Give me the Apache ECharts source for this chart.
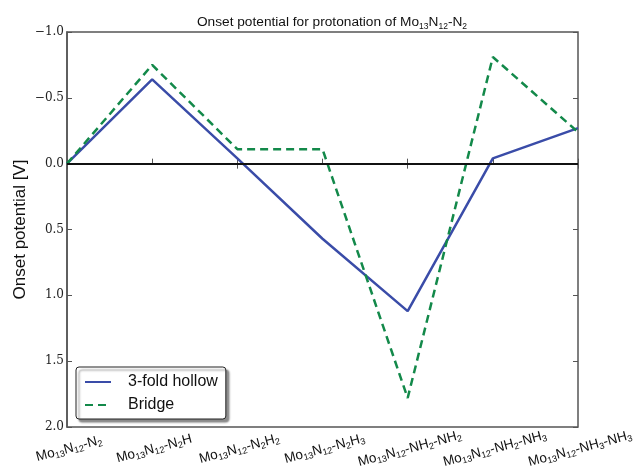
<!DOCTYPE html>
<html>
<head>
<meta charset="utf-8">
<script src="https://cdn.jsdelivr.net/npm/echarts@6/dist/echarts.min.js"></script>
<style>
  html, body { margin: 0; padding: 0; background: #fff; }
  #chart { width: 633px; height: 470px; }
</style>
</head>
<body>
<div id="chart"></div>
<script>
// structures along the reaction path
const categories = [
  'Mo13N12-N2',
  'Mo13N12-N2H',
  'Mo13N12-N2H2',
  'Mo13N12-N2H3',
  'Mo13N12-NH2-NH2',
  'Mo13N12-NH2-NH3',
  'Mo13N12-NH3-NH3'
]
// onset potential [V]
const hollowValues = [0, -0.64, -0.04, 0.57, 1.12, -0.04, -0.27]
const bridgeValues = [0, -0.75, -0.11, -0.11, 1.78, -0.81, -0.24]
const yTicks = [-1.0, -0.5, 0.0, 0.5, 1.0, 1.5, 2.0]

// every digit in the formulas is a subscript
const subs = s => s.replace(/(\d+)/g, '{s|$1}')

const frame = '#555'
const chart = echarts.init(document.getElementById('chart'))

chart.setOption({
  animation: false,
  title: {
    text: subs('Onset potential for protonation of Mo13N12-N2'),
    left: 327,
    textAlign: 'center',
    top: 8,
    textStyle: {
      fontFamily: 'Liberation Sans',
      fontSize: 13.7,
      fontWeight: 'normal',
      color: '#111',
      lineHeight: 18,
      rich: {
        s: { fontSize: 8.5, verticalAlign: 'bottom', lineHeight: 12, fontFamily: 'Liberation Sans', color: '#111' }
      }
    }
  },
  legend: {
    orient: 'vertical',
    left: 76,
    top: 367,
    padding: [7, 8, 6, 8],
    itemGap: 7,
    itemWidth: 26,
    itemHeight: 14,
    backgroundColor: '#fff',
    borderColor: '#222',
    borderWidth: 1,
    borderRadius: 3,
    shadowColor: 'rgba(0,0,0,0.45)',
    shadowBlur: 2,
    shadowOffsetX: 3,
    shadowOffsetY: 3,
    itemStyle: { opacity: 0 },
    textStyle: { fontFamily: 'Liberation Sans', fontSize: 16, color: '#111', padding: [0, 0, 0, 12] },
    data: ['3-fold hollow', 'Bridge']
  },
  grid: {
    left: 67,
    right: 55,
    top: 32,
    bottom: 43,
    containLabel: false,
    outerBoundsMode: 'none',
    show: true,
    borderColor: frame,
    borderWidth: 1.5
  },
  xAxis: [
    {
      type: 'category',
      data: categories,
      boundaryGap: false,
      axisLine: { lineStyle: { color: frame, width: 1.5 } },
      axisTick: { inside: true, length: 5, lineStyle: { color: frame } },
      axisLabel: {
        interval: 0,
        rotate: 15,
        align: 'center',
        verticalAlign: 'top',
        margin: 14,
        hideOverlap: false,
        fontFamily: 'Liberation Sans',
        fontSize: 13.5,
        color: '#111',
        lineHeight: 16,
        formatter: v => subs(v),
        rich: {
          s: { fontSize: 9, verticalAlign: 'bottom', lineHeight: 11, fontFamily: 'Liberation Sans', color: '#111' }
        }
      },
      splitLine: { show: false }
    },
    {
      type: 'category',
      data: categories,
      boundaryGap: false,
      position: 'top',
      axisLine: { show: false },
      axisTick: { inside: true, length: 5, lineStyle: { color: frame } },
      axisLabel: { show: false },
      splitLine: { show: false }
    }
  ],
  yAxis: [
    {
      type: 'value',
      inverse: true,
      min: -1,
      max: 2,
      interval: 0.5,
      name: 'Onset potential [V]',
      nameLocation: 'middle',
      nameGap: 38,
      nameMoveOverlap: false,
      nameTextStyle: { fontFamily: 'Liberation Sans', fontSize: 17, color: '#111' },
      axisLine: { show: true, lineStyle: { color: frame, width: 1.5 } },
      axisTick: { show: true, inside: true, length: 5, lineStyle: { color: frame } },
      axisLabel: {
        margin: 3,
        fontFamily: 'DejaVu Serif',
        fontSize: 12,
        color: '#222',
        formatter: v => {
          const t = yTicks.find(x => Math.abs(x - v) < 1e-9)
          const n = t === undefined ? v : t
          return (n < 0 ? '\u2212' : '') + Math.abs(n).toFixed(1)
        }
      },
      splitLine: { show: false }
    },
    {
      type: 'value',
      inverse: true,
      min: -1,
      max: 2,
      interval: 0.5,
      position: 'right',
      axisLine: { show: false },
      axisTick: { show: true, inside: true, length: 5, lineStyle: { color: frame } },
      axisLabel: { show: false },
      splitLine: { show: false }
    }
  ],
  series: [
    {
      name: '3-fold hollow',
      type: 'line',
      data: hollowValues,
      symbol: 'none',
      color: '#3a4ca8',
      lineStyle: { color: '#3a4ca8', width: 2.5 },
      z: 3,
      markLine: {
        silent: true,
        symbol: 'none',
        label: { show: false },
        lineStyle: { color: '#111', width: 2, type: 'solid' },
        data: [{ yAxis: 0 }]
      }
    },
    {
      name: 'Bridge',
      type: 'line',
      data: bridgeValues,
      symbol: 'none',
      color: '#13894a',
      lineStyle: { color: '#13894a', width: 2.5, type: [8, 5] },
      z: 4
    }
  ]
})
</script>
</body>
</html>
